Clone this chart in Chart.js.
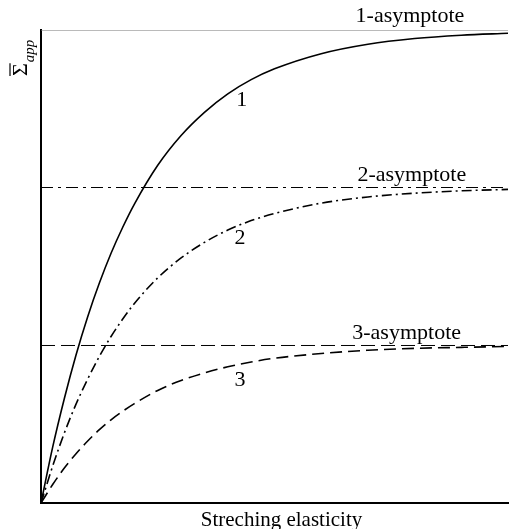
<!DOCTYPE html>
<html>
<head>
<meta charset="utf-8">
<script src="https://cdn.jsdelivr.net/npm/chart.js@4/dist/chart.umd.min.js"></script>
<style>
  body { margin: 0; background: #fff; }
  #wrap { width: 509px; height: 529px; }
</style>
</head>
<body>
<div id="wrap"><canvas id="elasticityChart" width="509" height="529"></canvas></div>
<script>
// values (x: 0..10, y: 0..1)
const xValues = [0, 0.25, 0.5, 0.75, 1, 1.25, 1.5, 1.75, 2, 2.5, 3, 3.5, 4, 4.5, 5, 6, 7, 8, 9, 10];
const curve1 = [0, 0.118, 0.221, 0.313, 0.394, 0.465, 0.528, 0.583, 0.632, 0.714, 0.777, 0.826, 0.865, 0.895, 0.918, 0.95, 0.97, 0.982, 0.989, 0.993];
const curve2 = [0, 0.078, 0.148, 0.209, 0.262, 0.31, 0.352, 0.389, 0.422, 0.476, 0.518, 0.551, 0.577, 0.597, 0.612, 0.634, 0.647, 0.655, 0.66, 0.663];
const curve3 = [0, 0.039, 0.074, 0.104, 0.131, 0.155, 0.176, 0.194, 0.21, 0.238, 0.259, 0.275, 0.288, 0.298, 0.306, 0.316, 0.323, 0.327, 0.329, 0.331];
const asymptotes = [1.0, 0.667, 0.333];

const curveLabels = [
  { text: '1', x: 4.3, y: 0.852 },
  { text: '2', x: 4.26, y: 0.56 },
  { text: '3', x: 4.26, y: 0.26 },
  { text: '1-asymptote', x: 7.9, y: 1.03 },
  { text: '2-asymptote', x: 7.94, y: 0.693 },
  { text: '3-asymptote', x: 7.83, y: 0.36 }
];

const serif = '"Liberation Serif", "DejaVu Serif", serif';

function toPoints(ys) {
  return xValues.map((x, i) => ({ x: x, y: ys[i] }));
}

function flatLine(v) {
  return [{ x: 0, y: v }, { x: 10, y: v }];
}

const textPlugin = {
  id: 'textPlugin',
  afterDraw(chart) {
    const ctx = chart.ctx;
    const xs = chart.scales.x;
    const ys = chart.scales.y;
    ctx.save();
    ctx.fillStyle = '#000';
    ctx.font = '22px ' + serif;
    ctx.textAlign = 'center';
    ctx.textBaseline = 'middle';
    curveLabels.forEach(l => {
      ctx.fillText(l.text, xs.getPixelForValue(l.x), ys.getPixelForValue(l.y));
    });

    // x axis title
    ctx.font = '21px ' + serif;
    ctx.textBaseline = 'alphabetic';
    ctx.fillText('Streching elasticity', xs.getPixelForValue(5.15), 526);

    // y axis title: overlined Sigma with italic subscript, rotated
    ctx.translate(19, 0);
    ctx.rotate(-Math.PI / 2);
    ctx.textAlign = 'left';
    ctx.font = '22px ' + serif;
    const sx = -76;
    ctx.fillText('\u03A3', sx, 8);
    const w = ctx.measureText('\u03A3').width;
    ctx.strokeStyle = '#000';
    ctx.lineWidth = 1.2;
    ctx.beginPath();
    ctx.moveTo(sx, -9);
    ctx.lineTo(sx + w, -9);
    ctx.stroke();
    ctx.font = 'italic 15px ' + serif;
    ctx.fillText('app', sx + w + 1, 15);
    ctx.restore();
  }
};

const ctx = document.getElementById('elasticityChart').getContext('2d');
new Chart(ctx, {
  type: 'line',
  data: {
    datasets: [
      {
        label: '1',
        data: toPoints(curve1),
        borderColor: '#000',
        borderWidth: 1.6,
        cubicInterpolationMode: 'monotone',
        pointRadius: 0,
        fill: false
      },
      {
        label: '2',
        data: toPoints(curve2),
        borderColor: '#000',
        borderWidth: 1.6,
        borderDash: [10, 4, 2, 4],
        cubicInterpolationMode: 'monotone',
        pointRadius: 0,
        fill: false
      },
      {
        label: '3',
        data: toPoints(curve3),
        borderColor: '#000',
        borderWidth: 1.6,
        borderDash: [12, 6],
        cubicInterpolationMode: 'monotone',
        pointRadius: 0,
        fill: false
      },
      {
        label: '1-asymptote',
        data: flatLine(asymptotes[0]),
        borderColor: '#777',
        borderWidth: 1.2,
        pointRadius: 0,
        fill: false
      },
      {
        label: '2-asymptote',
        data: flatLine(asymptotes[1]),
        borderColor: '#000',
        borderWidth: 1,
        borderDash: [12, 5, 3, 5],
        pointRadius: 0,
        fill: false
      },
      {
        label: '3-asymptote',
        data: flatLine(asymptotes[2]),
        borderColor: '#000',
        borderWidth: 1,
        borderDash: [14, 6],
        pointRadius: 0,
        fill: false
      }
    ]
  },
  options: {
    responsive: false,
    animation: false,
    layout: { padding: { left: 41, right: 1, top: 30, bottom: 26 } },
    plugins: {
      legend: { display: false },
      tooltip: { enabled: false }
    },
    scales: {
      x: {
        type: 'linear',
        min: 0,
        max: 10,
        grid: { display: false, drawTicks: false },
        ticks: { display: false },
        border: { display: true, color: '#000', width: 2 }
      },
      y: {
        min: 0,
        max: 1,
        grid: { display: false, drawTicks: false },
        ticks: { display: false },
        border: { display: true, color: '#000', width: 2 }
      }
    }
  },
  plugins: [textPlugin]
});
</script>
</body>
</html>
